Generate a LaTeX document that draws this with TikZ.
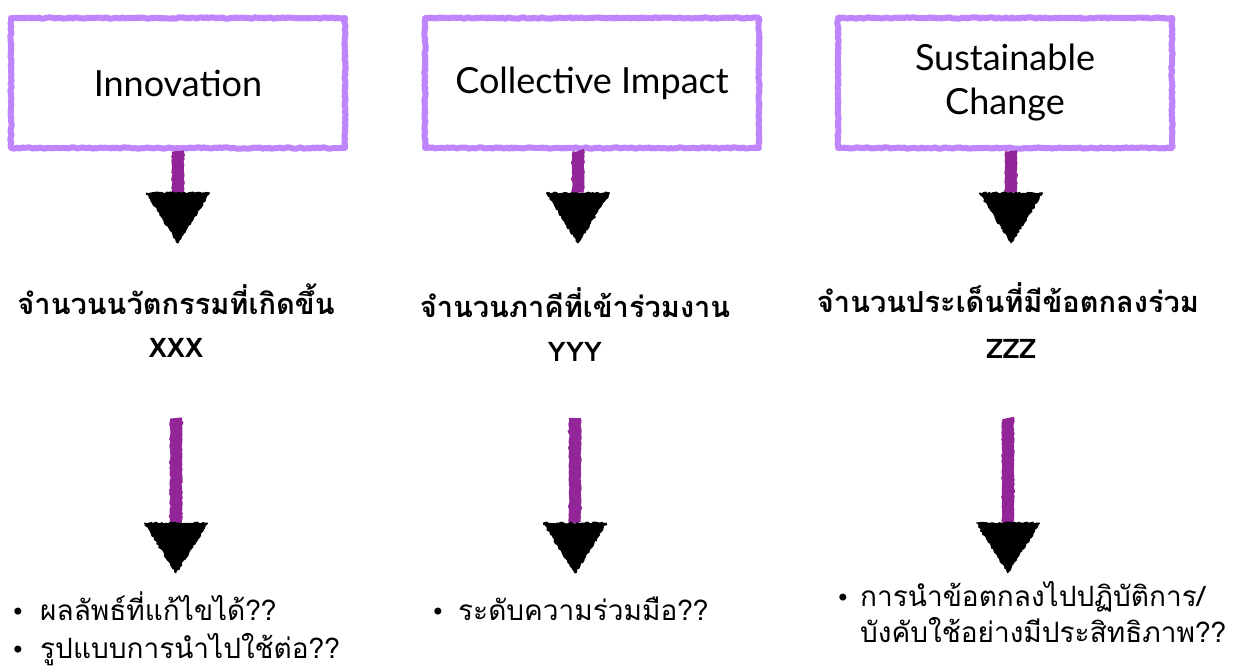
\documentclass[tikz,border=0pt]{standalone}
\usepackage{fontspec}
\usetikzlibrary{decorations.pathmorphing}
\newfontfamily\thaifont[Script=Thai]{Loma}
\newfontfamily\latnfont{Lato}
\newfontfamily\bulfont{DejaVu Sans}
\definecolor{boxpurple}{RGB}{192,132,252}
\definecolor{shaftpurple}{RGB}{146,38,152}
\begin{document}
\begin{tikzpicture}[x=1pt,y=-1pt,
  box/.style={draw=boxpurple, line width=6pt, line join=round, minimum width=334pt, minimum height=130pt,
    inner sep=0pt, align=center, font=\latnfont\fontsize{36}{44}\selectfont,
    decorate, decoration={random steps, segment length=2pt, amplitude=0.7pt}},
  shaft/.style={draw=shaftpurple, line width=12pt,
    decorate, decoration={random steps, segment length=2pt, amplitude=0.6pt}},
  headtri/.style={fill=black, draw=black, line width=1pt, line join=round,
    decorate, decoration={random steps, segment length=2pt, amplitude=1pt}},
  ttl/.style={anchor=base, inner sep=0pt, font=\thaifont\bfseries\fontsize{29}{33}\selectfont},
  xyz/.style={anchor=base, inner sep=0pt, font=\thaifont\bfseries\fontsize{27}{31}\selectfont},
  blt/.style={anchor=base, inner sep=0pt, font=\bulfont\fontsize{24}{28}\selectfont},
  btx/.style={anchor=base west, inner sep=0pt, font=\thaifont\fontsize{28}{32}\selectfont}
]
\useasboundingbox (0,0) rectangle (1254,668);
\fill[white] (0,0) rectangle (1254,668);

% boxes
\node[box] (b1) at (178,83) {Innovation};
\node[box] (b2) at (592,83) {Collective Impact};
\node[box] (b3) at (1005,83) {Sustainable\\Change};

% upper arrows
\coordinate (h1) at (178,193);
\coordinate (h2) at (578,193);
\coordinate (h3) at (1011,193);
\foreach \i in {1,2,3}{
  \draw[shaft] (b\i.south -| h\i) -- (h\i);
  \path[headtri] (h\i) ++(-31.5,0) -- ++(63,0) -- ++(-31.5,50) -- cycle;
}

% titles
\node[ttl] (t1) at (176,315) {จำนวนนวัตกรรมที่เกิดขึ้น};
\node[xyz] (x1) at (176,358) {XXX};
\node[ttl] (t2) at (575,318) {จำนวนภาคีที่เข้าร่วมงาน};
\node[xyz] (x2) at (575,362) {YYY};
\node[ttl] (t3) at (1008,313) {จำนวนประเด็นที่มีข้อตกลงร่วม};
\node[xyz] (x3) at (1011,359) {ZZZ};

% lower arrows
\coordinate (s1) at (176,418);
\coordinate (s2) at (575,418);
\coordinate (s3) at (1008,418);
\coordinate (g1) at (176,523);
\coordinate (g2) at (575,523);
\coordinate (g3) at (1008,523);
\foreach \i in {1,2,3}{
  \draw[shaft] (s\i) -- (g\i);
  \path[headtri] (g\i) ++(-31.5,0) -- ++(63,0) -- ++(-31.5,50) -- cycle;
}

% bullets
\node[blt] (d1a) at (18,620) {•};
\node[btx] (l1a) at (40,620) {ผลลัพธ์ที่แก้ไขได้??};
\node[blt] (d1b) at (18,658) {•};
\node[btx] (l1b) at (40,658) {รูปแบบการนำไปใช้ต่อ??};
\node[blt] (d2a) at (438,620) {•};
\node[btx] (l2a) at (458,620) {ระดับความร่วมมือ??};
\node[blt] (d3a) at (843,606) {•};
\node[btx] (l3a) at (860,606) {การนำข้อตกลงไปปฏิบัติการ/};
\node[btx] (l3b) at (860,642) {บังคับใช้อย่างมีประสิทธิภาพ??};
\end{tikzpicture}
\end{document}
